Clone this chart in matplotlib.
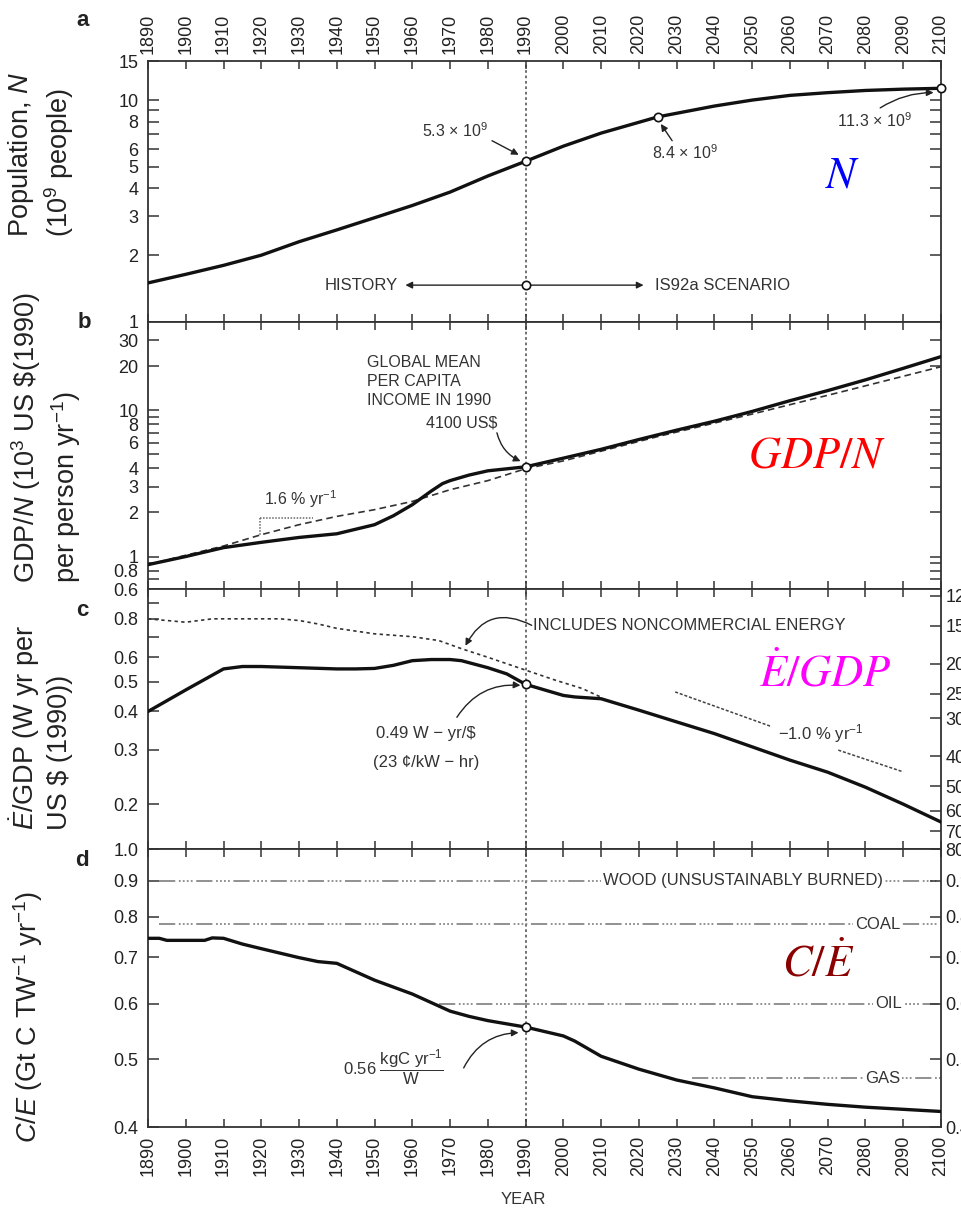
import numpy as np
import matplotlib.pyplot as plt

plt.rcParams['font.family'] = ['Liberation Sans', 'DejaVu Sans']
plt.rcParams['mathtext.fontset'] = 'custom'
plt.rcParams['mathtext.rm'] = 'Liberation Sans'
plt.rcParams['mathtext.it'] = 'Liberation Sans:italic'
plt.rcParams['mathtext.bf'] = 'Liberation Sans:bold'

# ---- data ----
decades = list(range(1890, 2101, 10))

# a: population (10^9 people)
pop_years = [1890, 1900, 1910, 1920, 1930, 1940, 1950, 1960, 1970, 1980, 1990,
             2000, 2010, 2025, 2040, 2050, 2060, 2070, 2080, 2090, 2100]
pop = [1.5, 1.64, 1.8, 2.0, 2.3, 2.6, 2.95, 3.35, 3.85, 4.55, 5.3,
       6.2, 7.1, 8.4, 9.4, 10.0, 10.5, 10.8, 11.05, 11.2, 11.3]

# b: GDP per capita (10^3 US$ 1990 per person per yr)
gdp_years = [1890, 1900, 1910, 1920, 1930, 1940, 1950, 1955, 1960, 1965, 1968, 1970,
             1975, 1980, 1990, 2000, 2010, 2020, 2030, 2040, 2050, 2060, 2070,
             2080, 2090, 2100]
gdp = [0.88, 1.0, 1.15, 1.25, 1.35, 1.43, 1.65, 1.9, 2.26, 2.8, 3.15, 3.3,
       3.6, 3.85, 4.1, 4.7, 5.4, 6.3, 7.3, 8.4, 9.8, 11.6, 13.6,
       16.1, 19.3, 23.2]
trend_years = [1890, 1900, 1910, 1920, 1930, 1940, 1950, 1960, 1970, 1980, 1990,
               2000, 2025, 2050, 2075, 2100]
trend = [0.88, 1.02, 1.18, 1.41, 1.65, 1.88, 2.09, 2.38, 2.86, 3.3, 3.98,
         4.5, 6.6, 9.4, 13.6, 19.8]

# c: energy intensity (W yr per US$ 1990)
ei_years = [1890, 1900, 1910, 1915, 1920, 1930, 1940, 1945, 1950, 1955, 1960, 1965,
            1970, 1973, 1980, 1985, 1990, 2000, 2003, 2010, 2020, 2030, 2040,
            2050, 2060, 2070, 2080, 2090, 2100]
ei = [0.40, 0.47, 0.55, 0.56, 0.56, 0.555, 0.55, 0.55, 0.552, 0.565, 0.585, 0.59,
      0.59, 0.585, 0.555, 0.53, 0.49, 0.451, 0.446, 0.44, 0.404, 0.37, 0.339,
      0.307, 0.278, 0.254, 0.227, 0.20, 0.175]
nc_years = [1890, 1900, 1907, 1925, 1930, 1935, 1940, 1950, 1960, 1967, 1973,
            1980, 1990, 1998, 2005, 2010]
nc = [0.80, 0.78, 0.80, 0.80, 0.79, 0.77, 0.745, 0.715, 0.70, 0.68, 0.64,
      0.60, 0.545, 0.505, 0.475, 0.445]
slope_seg1_years = [2029.6, 2055.2]
slope_seg1 = [0.463, 0.357]
slope_seg2_years = [2072.8, 2090.0]
slope_seg2 = [0.2996, 0.2546]
cents = [12, 15, 20, 25, 30, 40, 50, 60, 70, 80]
cents_per_kwh = 100 / 8.766  # 1 W yr = 8.766 kWh

# d: carbon intensity (Gt C per TW yr)
ci_years = [1890, 1893, 1895, 1905, 1907, 1910, 1915, 1920, 1930, 1935, 1940,
            1950, 1960, 1970, 1975, 1980, 1990, 2000, 2003, 2010, 2020, 2030,
            2040, 2050, 2060, 2070, 2080, 2090, 2100]
ci = [0.745, 0.745, 0.74, 0.74, 0.746, 0.745, 0.731, 0.72, 0.699, 0.69, 0.686,
      0.649, 0.62, 0.586, 0.576, 0.568, 0.556, 0.54, 0.531, 0.505, 0.484, 0.467,
      0.455, 0.442, 0.436, 0.431, 0.427, 0.424, 0.421]
fuels = ['WOOD (UNSUSTAINABLY BURNED)', 'COAL', 'OIL', 'GAS']
fuel_ci = [0.9, 0.78, 0.60, 0.47]
fuel_start = [1893, 1893, 1967, 2034]
fuel_label_year = [2047.6, 2083.2, 2086.1, 2084.5]

# ---- figure ----
W, H = 961, 1211
fig = plt.figure(figsize=(W / 100, H / 100), dpi=100)
left, right = 148, 941
edges = [61, 322, 589, 849, 1127]
axes = []
for i in range(4):
    top, bot = edges[i], edges[i + 1]
    ax = fig.add_axes([left / W, 1 - bot / H, (right - left) / W, (bot - top) / H])
    axes.append(ax)
axa, axb, axc, axd = axes

ylims = [(1, 15), (0.6, 40), (0.143, 1.0), (0.4, 1.0)]
yticks = [
    ([1, 2, 3, 4, 5, 6, 7, 8, 9, 10, 15],
     ['1', '2', '3', '4', '5', '6', '', '8', '', '10', '15']),
    ([0.6, 0.7, 0.8, 0.9, 1, 2, 3, 4, 5, 6, 7, 8, 9, 10, 20, 30],
     ['0.6', '', '0.8', '', '1', '2', '3', '4', '', '6', '', '8', '', '10', '20', '30']),
    ([0.2, 0.3, 0.4, 0.5, 0.6, 0.7, 0.8, 0.9],
     ['0.2', '0.3', '0.4', '0.5', '0.6', '', '0.8', '']),
    ([0.4, 0.5, 0.6, 0.7, 0.8, 0.9, 1.0],
     ['0.4', '0.5', '0.6', '0.7', '0.8', '0.9', '1.0']),
]
spine_c = '#333333'
for i, ax in enumerate(axes):
    ax.set_yscale('log')
    ax.set_xlim(1890, 2100)
    ax.set_ylim(*ylims[i])
    ax.set_xticks(decades)
    ax.set_yticks(yticks[i][0])
    ax.set_yticklabels(yticks[i][1])
    ax.yaxis.set_minor_locator(plt.NullLocator())
    for s in ax.spines.values():
        s.set_linewidth(1.3)
        s.set_color(spine_c)
    ax.tick_params(axis='x', direction='in', length=6, width=1.1, top=True, bottom=True,
                   labelbottom=False, labeltop=False, color=spine_c)
    ax.tick_params(axis='y', direction='in', length=8, width=1.1, left=True, right=True,
                   labelsize=13, pad=7, color=spine_c, labelcolor='#222222')
    ax.axvline(1990, color='#666666', ls=(0, (1.5, 1.5)), lw=1.3, zorder=1)

# longer ticks on the decades (1 and 10)
for ax, dec in [(axa, [1, 10]), (axb, [1, 10])]:
    ax.yaxis.set_minor_locator(plt.FixedLocator(dec))
    ax.yaxis.set_minor_formatter(plt.NullFormatter())
    ax.tick_params(axis='y', which='minor', direction='in', length=13, width=1.1,
                   left=True, right=True, color=spine_c)

axa.tick_params(axis='x', labeltop=True, labelrotation=90, labelsize=13, pad=5,
                labelcolor='#222222')
axd.tick_params(axis='x', labelbottom=True, labelrotation=90, labelsize=13, pad=6,
                labelcolor='#222222')
axc.tick_params(axis='y', right=False)
axd.tick_params(axis='y', right=False)


def right_scale(ax, pos, labels):
    ax2 = ax.twinx()
    ax2.set_yscale('log')
    ax2.set_ylim(ax.get_ylim())
    ax2.set_yticks(pos)
    ax2.set_yticklabels(labels)
    ax2.yaxis.set_minor_locator(plt.NullLocator())
    ax2.tick_params(axis='y', direction='in', length=8, width=1.1, labelsize=13, pad=3,
                    color=spine_c, labelcolor='#222222')
    for s in ax2.spines.values():
        s.set_visible(False)
    return ax2


# secondary scale for panel c (cents per kWh)
right_scale(axc, [cents_per_kwh / c for c in cents], [str(c) for c in cents])
right_scale(axd, yticks[3][0][:-1], yticks[3][1][:-1])

lw_main = 2.4
circ = dict(marker='o', ms=6, mfc='white', mec='#111111', mew=1.2, ls='none', zorder=5)
arr = dict(arrowstyle='-|>', color='#222222', lw=1.0, mutation_scale=10,
           shrinkA=0, shrinkB=1)
small = dict(fontsize=11.5, color='#333333')

# ---- panel a ----
axa.plot(pop_years, pop, color='#111111', lw=lw_main, zorder=3)
axa.plot([1990, 2025, 2100], [5.3, 8.4, 11.3], clip_on=False, **circ)
axa.plot([1990], [1.466], **circ)
axa.text(1971.3, 7.3, '5.3 × 10$^9$', ha='center', va='center', **small)
axa.annotate('', xy=(1988.5, 5.63), xytext=(1981.1, 6.56), arrowprops=arr)
axa.text(2032.2, 5.81, '8.4 × 10$^9$', ha='center', va='center', **small)
axa.annotate('', xy=(2025.6, 7.9), xytext=(2028.8, 6.56), arrowprops=arr)
axa.text(2082.3, 8.09, '11.3 × 10$^9$', ha='center', va='center', **small)
axa.annotate('', xy=(2098.4, 10.8), xytext=(2083.9, 9.22),
             arrowprops=dict(arr, connectionstyle='arc3,rad=-0.15'))
axa.annotate('', xy=(1957.8, 1.466), xytext=(1990, 1.466),
             arrowprops=dict(arr, shrinkA=3))
axa.annotate('', xy=(2021.6, 1.466), xytext=(1990, 1.466),
             arrowprops=dict(arr, shrinkA=3))
axa.text(1956.2, 1.466, 'HISTORY', ha='right', va='center', fontsize=12, color='#333333')
axa.text(2024.3, 1.466, 'IS92a SCENARIO', ha='left', va='center', fontsize=12,
         color='#333333')

# ---- panel b ----
axb.plot(trend_years, trend, color='#333333', lw=1.2, ls=(0, (4, 2.5)), zorder=2)
axb.plot(gdp_years, gdp, color='#111111', lw=lw_main, zorder=3)
axb.plot([1990], [4.1], **circ)
axb.text(1948.0, 15.7, 'GLOBAL MEAN\nPER CAPITA\nINCOME IN 1990', ha='left', va='center',
         fontsize=11.5, color='#333333', linespacing=1.3)
axb.text(1973.2, 8.2, '4100 US$', ha='center', va='center', **small)
axb.annotate('', xy=(1989.0, 4.44), xytext=(1982.4, 7.0),
             arrowprops=dict(arr, connectionstyle='arc3,rad=0.25'))
axb.plot([1919.7, 1933.7], [1.84, 1.84], color='#666666', lw=1.1, ls=(0, (1, 1)))
axb.plot([1919.7, 1919.7], [1.84, 1.41], color='#666666', lw=1.1, ls=(0, (1, 1)))
axb.text(1930.3, 2.45, '1.6 % yr$^{-1}$', ha='center', va='center', **small)

# ---- panel c ----
axc.plot(nc_years, nc, color='#333333', lw=1.2, ls=(0, (2, 2)), zorder=2)
axc.plot(ei_years, ei, color='#111111', lw=lw_main, zorder=3)
axc.plot(slope_seg1_years, slope_seg1, color='#444444', lw=1.1, ls=(0, (2, 1.2)))
axc.plot(slope_seg2_years, slope_seg2, color='#444444', lw=1.1, ls=(0, (2, 1.2)))
axc.plot([1990], [0.49], **circ)
axc.text(1992.0, 0.762, 'INCLUDES NONCOMMERCIAL ENERGY', ha='left', va='center',
         fontsize=12, color='#333333')
axc.annotate('', xy=(1973.9, 0.648), xytext=(1991.6, 0.762),
             arrowprops=dict(arr, connectionstyle='arc3,rad=0.5'))
axc.text(1963.6, 0.340, '0.49 W − yr/$', ha='center', va='center', fontsize=12,
         color='#333333')
axc.text(1963.6, 0.274, '(23 ¢/kW − hr)', ha='center', va='center', fontsize=12,
         color='#333333')
axc.annotate('', xy=(1989.0, 0.486), xytext=(1971.8, 0.383),
             arrowprops=dict(arr, connectionstyle='arc3,rad=-0.3'))
axc.text(2068.2, 0.340, '−1.0 % yr$^{-1}$', ha='center', va='center', fontsize=12,
         color='#333333')

# ---- panel d ----
ref_ls = (0, (9, 2, 1, 1.2, 1, 1.2, 1, 1.2, 1, 2))
for name, v, x0, xl in zip(fuels, fuel_ci, fuel_start, fuel_label_year):
    axd.plot([x0, 2100], [v, v], color='#888888', lw=1.3, ls=ref_ls, zorder=1)
    axd.text(xl, v, name, ha='center', va='center', fontsize=12, color='#333333',
             bbox=dict(facecolor='white', edgecolor='none', pad=1.5), zorder=2)
axd.plot(ci_years, ci, color='#111111', lw=lw_main, zorder=3)
axd.plot([1990], [0.556], **circ)
axd.text(1954.9, 0.486, r'0.56 $\dfrac{\mathrm{kgC\ yr^{-1}}}{\mathrm{W}}$', ha='center',
         va='center', fontsize=12, color='#333333')
axd.annotate('', xy=(1988.5, 0.546), xytext=(1973.6, 0.486),
             arrowprops=dict(arr, connectionstyle='arc3,rad=-0.3'))

# ---- big coloured labels ----
big = dict(fontsize=32, math_fontfamily='stix', ha='center', va='center')
fig.text(843 / W, 1 - 176 / H, r'$N$', color='#0000ff', **big)
fig.text(817 / W, 1 - 456 / H, r'$GDP/N$', color='#ff0000', **big)
fig.text(825 / W, 1 - 674 / H, r'$\dot{E}/GDP$', color='#ff00ff', **big)
fig.text(818 / W, 1 - 964 / H, r'$C/\dot{E}$', color='#8b0000', **big)

# ---- axis titles and panel letters ----
ylab = dict(rotation=90, ha='center', va='bottom', multialignment='left', fontsize=19.5,
            color='#222222', linespacing=1.25)
fig.text(41 / W, 1 - 237 / H, 'Population, $N$\n(10$^9$ people)', **ylab)
fig.text(46 / W, 1 - 583 / H, 'GDP/$N$ (10$^3$ US \\$(1990)\nper person yr$^{-1}$)', **ylab)
fig.text(40 / W, 1 - 830 / H, '$\\dot{E}$/GDP (W yr per\nUS \\$ (1990))', **ylab)
fig.text(28 / W, 1 - 1143 / H, '$C/E$ (Gt C TW$^{-1}$ yr$^{-1}$)', **ylab)

for letter, (x, y) in zip('abcd', [(83, 21), (84, 322), (82, 610), (82, 861)]):
    fig.text(x / W, 1 - y / H, letter, fontsize=16, fontweight='bold', ha='center',
             va='center', color='#222222')

fig.text(523 / W, 1 - 1200 / H, 'YEAR', fontsize=12, ha='center', va='center',
         color='#333333')

fig.savefig('out.png', dpi=100)
